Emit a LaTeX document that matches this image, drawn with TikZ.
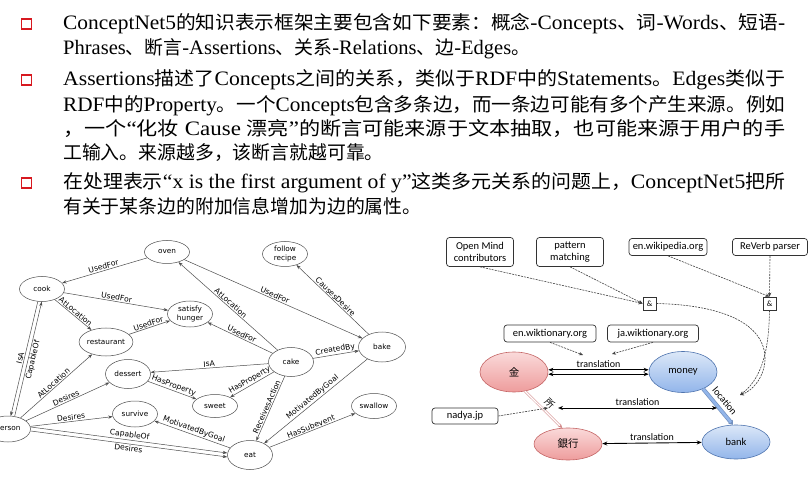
\documentclass[tikz,border=0pt]{standalone}
\usepackage{graphicx}
\usepackage{fontspec}
\setmainfont{Liberation Serif}
\newfontfamily\cjk[Scale=0.92]{Noto Sans CJK SC}
\newfontfamily\cjkjp{Noto Sans CJK JP}
\newfontfamily\graphfont{DejaVu Sans}
\newfontfamily\srcfont{Carlito}
\usetikzlibrary{arrows.meta,positioning,shapes.geometric}
\newcommand{\zh}[1]{{\cjk #1}}
\newcommand{\fullline}[1]{\resizebox{722pt}{\height}{#1}}
\definecolor{bulletred}{HTML}{D71920}
\definecolor{jatop}{HTML}{FADADA}
\definecolor{jabot}{HTML}{EE9C9C}
\definecolor{jaline}{HTML}{C46565}
\definecolor{entop}{HTML}{DCE8F8}
\definecolor{enbot}{HTML}{92B5EA}
\definecolor{enline}{HTML}{4F74AE}

\begin{document}
\begin{tikzpicture}[x=1pt,y=-1pt,
  txt/.style={anchor=west,inner sep=0pt,font=\fontsize{20.5}{22}\selectfont},
  sqbullet/.style={draw=bulletred,line width=1.4pt,minimum size=10pt,inner sep=0pt},
  concept/.style={ellipse,draw=black!70,line width=0.5pt,minimum width=45pt,minimum height=26pt,
    inner sep=0pt,align=center,font=\graphfont\fontsize{7.3}{8.6}\selectfont},
  rel/.style={draw=black!70,line width=0.5pt,-{Stealth[length=4.5pt,width=3.2pt]}},
  lbl/.style={sloped,inner sep=1pt,font=\graphfont\fontsize{7.6}{8.8}\selectfont},
  src/.style={draw=black!80,rounded corners=3pt,line width=0.7pt,inner sep=1pt,align=center,
    font=\srcfont\fontsize{10.5}{12}\selectfont},
  amp/.style={draw=black!80,line width=0.7pt,minimum size=13pt,inner sep=0pt,
    font=\srcfont\fontsize{8}{9}\selectfont},
  via/.style={draw=black!75,dash pattern=on 2pt off 1pt,line width=0.6pt,-{Stealth[length=4pt,width=3.5pt]}},
  jaword/.style={ellipse,draw=jaline,line width=0.6pt,top color=jatop,bottom color=jabot,
    minimum width=68pt,inner sep=0pt,font=\cjkjp\fontsize{10.5}{12}\selectfont},
  enword/.style={ellipse,draw=enline,line width=0.6pt,top color=entop,bottom color=enbot,
    minimum width=68pt,inner sep=0pt,font=\srcfont\fontsize{10.5}{12}\selectfont},
  trans/.style={draw=black,line width=0.9pt,{Stealth[length=5pt,width=4pt]}-{Stealth[length=5pt,width=4pt]}},
  tlbl/.style={inner sep=1.5pt,font=\srcfont\fontsize{10}{11}\selectfont},
  jalink/.style={draw=jaline!80,line width=0.5pt,double=white,double distance=1.4pt,-{Stealth[length=4pt,width=4pt]}},
  enlink/.style={draw=enline!80,line width=0.7pt,double=enbot,double distance=2.6pt,-{Stealth[length=4pt,width=6pt]}}
]
\useasboundingbox (0,0) rectangle (811,486);
\clip (0,0) rectangle (811,486);

% bullet text
\node[sqbullet] (b1) at (26.5,24) {};
\node[sqbullet] (b2) at (26.5,80) {};
\node[sqbullet] (b3) at (26.5,183) {};
\node[txt] (l1) at (63,24) {\fullline{ConceptNet5\zh{的知识表示框架主要包含如下要素：概念}-Concepts\zh{、词}-Words\zh{、短语}-}};
\node[txt] (l2) at (63,48.5) {Phrases\zh{、断言}-Assertions\zh{、关系}-Relations\zh{、边}-Edges\zh{。}};
\node[txt] (l3) at (63,80) {\fullline{Assertions\zh{描述了}Concepts\zh{之间的关系，类似于}RDF\zh{中的}Statements\zh{。}Edges\zh{类似于}}};
\node[txt] (l4) at (63,105.5) {\fullline{RDF\zh{中的}Property\zh{。一个}Concepts\zh{包含多条边，而一条边可能有多个产生来源。例如}}};
\node[txt] (l5) at (63,129) {\fullline{\zh{，一个}“\zh{化妆} Cause \zh{漂亮}”\zh{的断言可能来源于文本抽取，也可能来源于用户的手}}};
\node[txt] (l6) at (63,153) {\zh{工输入。来源越多，该断言就越可靠。}};
\node[txt] (l7) at (63,183) {\fullline{\zh{在处理表示}“x is the first argument of y”\zh{这类多元关系的问题上，}ConceptNet5\zh{把所}}};
\node[txt] (l8) at (63,206) {\zh{有关于某条边的附加信息增加为边的属性。}};

% concept graph
\node[concept,minimum height=23pt] (oven) at (167,252) {oven};
\node[concept,minimum height=25pt] (cook) at (42,289) {cook};
\node[concept] (hunger) at (190,314) {satisfy\\hunger};
\node[concept,minimum height=28pt] (restaurant) at (106,342) {restaurant};
\node[concept,minimum height=29pt] (dessert) at (128,374) {dessert};
\node[concept,minimum height=29pt] (cake) at (291,362) {cake};
\node[concept,minimum width=47pt,minimum height=30pt] (bake) at (382,347) {bake};
\node[concept,minimum height=25pt] (recipe) at (285,254) {follow\\recipe};
\node[concept,minimum height=23pt] (sweet) at (215,406) {sweet};
\node[concept,minimum height=25pt] (swallow) at (374,406) {swallow};
\node[concept] (survive) at (135,414) {survive};
\node[concept,minimum height=29pt] (eat) at (250,455) {eat};
\node[concept] (person) at (8,429) {person};

\draw[rel] (oven) -- node[lbl,above] {UsedFor} (cook);
\draw[rel] (cook) -- node[lbl,above] {UsedFor} (hunger);
\draw[rel] (cook) -- node[lbl,above] {AtLocation} (restaurant);
\draw[rel] (restaurant) -- node[lbl,above] {UsedFor} (hunger);
\draw[rel] (cake) -- node[lbl,above] {AtLocation} (oven);
\draw[rel] (oven) -- node[lbl,above] {UsedFor} (bake);
\draw[rel] (bake) -- node[lbl,above] {CausesDesire} (recipe);
\draw[rel] (cake) -- node[lbl,above] {UsedFor} (hunger);
\draw[rel] (cake) -- node[lbl,above] {CreatedBy} (bake);
\draw[rel] (cake) -- node[lbl,above] {IsA} (dessert);
\draw[rel] (dessert) -- node[lbl,above] {HasProperty} (sweet);
\draw[rel] (cake) -- node[lbl,above] {HasProperty} (sweet);
\draw[rel] (cake) -- node[lbl,above] {ReceivesAction} (eat);
\draw[rel] (bake) -- node[lbl,above] {MotivatedByGoal} (eat);
\draw[rel] (eat) -- node[lbl,above] {HasSubevent} (swallow);
\draw[rel] (eat) -- node[lbl,above] {MotivatedByGoal} (survive);
\draw[rel] (person) -- node[lbl,above] {AtLocation} (restaurant);
\draw[rel] (person) -- node[lbl,above] {Desires} (dessert);
\draw[rel] (person) -- node[lbl,above] {Desires} (survive);
\draw[rel] ([yshift=2pt]person.east) -- node[lbl,above] {CapableOf} ([yshift=2pt]eat.west);
\draw[rel] ([yshift=-2pt]person.east) -- node[lbl,below] {Desires} ([yshift=-2pt]eat.west);
\draw[rel] ([xshift=-2pt]cook.-100) -- node[lbl,above] {IsA} ([xshift=-2pt]person.70);
\draw[rel] ([xshift=2pt]person.70) -- node[lbl,below] {CapableOf} ([xshift=2pt]cook.-100);

% provenance graph
\node[src,minimum width=67pt,minimum height=29pt] (omcs) at (480,252) {Open Mind\\contributors};
\node[src,minimum width=67pt,minimum height=29pt] (pattern) at (570,252) {pattern\\matching};
\node[src,minimum width=78pt,minimum height=17pt] (wiki) at (668,247) {en.wikipedia.org};
\node[src,minimum width=75pt,minimum height=17pt] (reverb) at (770,247) {ReVerb parser};
\node[amp] (amp1) at (649.5,303.5) {\&};
\node[amp] (amp2) at (769.5,303.5) {\&};
\node[src,minimum width=92pt,minimum height=17pt] (enwikt) at (550,333.5) {en.wiktionary.org};
\node[src,minimum width=91pt,minimum height=17pt] (jawikt) at (653,333.5) {ja.wiktionary.org};
\node[src,minimum width=66pt,minimum height=16pt] (nadya) at (465,416) {nadya.jp};

\node[jaword,minimum height=40pt] (kin) at (514,372) {金};
\node[enword,minimum height=41pt] (money) at (683,372) {money};
\node[jaword,minimum height=32pt] (ginko) at (568,444) {銀行};
\node[enword,minimum height=34pt] (bank) at (736,442) {bank};

\draw[trans] ([yshift=2.2pt]kin.east) -- node[tlbl,above] {translation} ([yshift=2.2pt]money.west);
\draw[trans] ([yshift=-2.2pt]kin.east) -- ([yshift=-2.2pt]money.west);
\draw[trans] (ginko) -- node[tlbl,above] {translation} (bank);
\draw[jalink] (kin.-60) -- node[sloped,above,inner sep=4pt,font=\cjkjp\fontsize{9.5}{10}\selectfont] {所} (ginko.110);
\draw[enlink] (money.-40) -- node[sloped,above,inner sep=5pt,font=\srcfont\fontsize{10}{11}\selectfont] {location} (bank.100);

\coordinate (suo) at (558,408);
\coordinate (loc) at (717,408);
\draw[trans] (suo) -- node[tlbl,above] {translation} (loc);

\coordinate (trtop) at (583,355);
\coordinate (trtop2) at (612,354);
\coordinate (nadyaend) at (548,408);
\coordinate (locend) at (740,395);

\draw[via] (omcs.south) -- (amp1.west);
\draw[via] (pattern.south) -- (amp1.west);
\draw[via] (wiki.south) -- (amp2.north);
\draw[via] (reverb.south) -- (amp2.north);
\draw[via] (enwikt.south) -- (trtop);
\draw[via] (jawikt.south) -- (trtop2);
\draw[via] (nadya.east) -- (nadyaend);
\draw[via] (amp1.east) .. controls (725,305) and (766,325) .. (765,360) .. controls (764,378) and (752,391) .. (locend);
\draw[via] (amp2.south) .. controls (769,335) and (767,375) .. (locend);
\end{tikzpicture}
\end{document}
